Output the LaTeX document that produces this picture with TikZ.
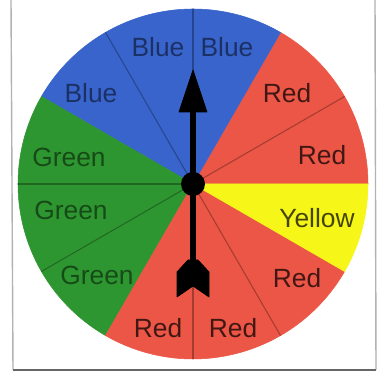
\documentclass[tikz,border=0pt]{standalone}
\usepackage{fontspec}
\newfontfamily\spinfont{Liberation Sans}
\usepackage{xcolor}
\usepackage{tikz}
\definecolor{spinblue}{RGB}{56,100,204}
\definecolor{spinred}{RGB}{236,86,70}
\definecolor{spingreen}{RGB}{46,150,48}
\definecolor{spinyellow}{RGB}{246,246,24}

\begin{document}
\begin{tikzpicture}[
	x=0.02cm, y=0.02cm,
	% Styles
	divider/.style={draw=black, opacity=0.3, line width=0.6pt},
	lbl/.style={
		font=\spinfont\fontsize{15}{18}\selectfont,
		inner sep=0pt, text=black, text opacity=0.72
	},
	dimlbl/.style={lbl, text opacity=0.5},
	pointer/.style={fill=black, draw=black, line join=round},
	card/.style={draw=black!30, line width=0.8pt},
	cardshadow/.style={draw=black!60, line width=1.6pt}
	]
	
	\useasboundingbox (0,0) rectangle (385,377);
	\fill[white] (0,0) rectangle (385,377);
	
	%% ─── CARD ───────────────────────────────────────────────────────────────
	\coordinate (cardtl) at (11,377);
	\coordinate (cardbl) at (13,7);
	\coordinate (cardbr) at (376,7);
	\coordinate (cardtr) at (375,377);
	\draw[card] (cardtl) -- (cardbl);
	\draw[card] (cardtr) -- (cardbr);
	\draw[cardshadow] (cardbl) -- (cardbr);
	
	%% ─── WHEEL ──────────────────────────────────────────────────────────────
	\coordinate (hub) at (193,193);
	\foreach \a/\c in {0/spinred, 30/spinred, 60/spinblue, 90/spinblue,
		120/spinblue, 150/spingreen, 180/spingreen, 210/spingreen,
		240/spinred, 270/spinred, 300/spinred, 330/spinyellow}
	\filldraw[fill=\c, draw=\c, line width=0.3pt] (hub) -- ++(\a:175)
	arc[start angle=\a, end angle=\a+30, radius=175] -- cycle;
	
	\foreach \a in {30,90,120,180,210,270,300}
	\draw[divider] (hub) -- ++(\a:175);
	
	% Labels
	\node[lbl]    (r1) at (322,222) {Red};
	\node[lbl]    (r2) at (287,284) {Red};
	\node[dimlbl] (b1) at (227,330) {Blue};
	\node[dimlbl] (b2) at (158,330) {Blue};
	\node[dimlbl] (b3) at (91,284)  {Blue};
	\node[dimlbl] (g1) at (69,220)  {Green};
	\node[dimlbl] (g2) at (71,167)  {Green};
	\node[dimlbl] (g3) at (97,102)  {Green};
	\node[lbl]    (r3) at (158,49)  {Red};
	\node[lbl]    (r4) at (233,49)  {Red};
	\node[lbl]    (r5) at (297,99)  {Red};
	\node[lbl]    (y1) at (317,159) {Yellow};
	
	%% ─── POINTER ────────────────────────────────────────────────────────────
	\coordinate (tip) at (193,307);
	\coordinate (headbase) at (193,266);
	\coordinate (tailtop) at (193,117);
	\draw[black, line width=0.12cm] (tailtop) -- (headbase);
	\fill[pointer] (tip) -- ++(14,-42) -- ++(-28,0) -- cycle;
	\fill[pointer] (tailtop) ++(-5,0) -- ++(-11,-12) -- ++(0,-25)
	-- ++(16,11) -- ++(16,-11) -- ++(0,25) -- ++(-11,12) -- cycle;
	\fill[black] (hub) circle (12);
	
\end{tikzpicture}
\end{document}
